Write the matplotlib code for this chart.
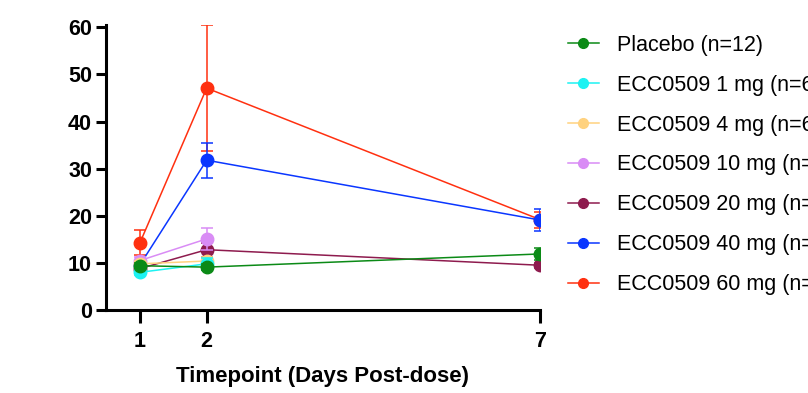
import matplotlib
matplotlib.use("Agg")
import matplotlib.pyplot as plt
from matplotlib.lines import Line2D

plt.rcParams['font.family'] = ['Liberation Sans', 'DejaVu Sans']

days_full = [1, 2, 7]
days_short = [1, 2]

labels = ["Placebo (n=12)", "ECC0509 1 mg (n=6)", "ECC0509 4 mg (n=6)",
          "ECC0509 10 mg (n=6)", "ECC0509 20 mg (n=6)", "ECC0509 40 mg (n=6)",
          "ECC0509 60 mg (n=6)"]
colors = ["#0B8A16", "#1DF2F2", "#FFD27F", "#D98CF5", "#8E1B4E", "#0A36FF", "#FF3010"]

placebo_mean = [9.4, 9.1, 11.9]
placebo_err = [0.5, 0.7, 1.2]
mg1_mean = [8.0, 9.8]
mg1_err = [0.5, 1.3]
mg4_mean = [9.8, 10.4]
mg4_err = [0.6, 0.8]
mg10_mean = [10.5, 15.1]
mg10_err = [0.8, 2.4]
mg20_mean = [8.8, 12.8, 9.5]
mg20_err = [0.5, 1.5, 0.5]
mg40_mean = [9.6, 31.8, 19.1]
mg40_err = [0.7, 3.7, 2.3]
mg60_mean = [14.3, 47.1, 19.2]
mg60_err = [2.7, 13.4, 1.7]

series = [
    (days_full, placebo_mean, placebo_err),
    (days_short, mg1_mean, mg1_err),
    (days_short, mg4_mean, mg4_err),
    (days_short, mg10_mean, mg10_err),
    (days_full, mg20_mean, mg20_err),
    (days_full, mg40_mean, mg40_err),
    (days_full, mg60_mean, mg60_err),
]

fig = plt.figure(figsize=(8.08, 3.93), dpi=100)
ax = fig.add_axes([106/808, 1-310/393, (540-106)/808, (310-25)/393])

n = len(series)
for i, ((x, y, e), lab, c) in enumerate(zip(series, labels, colors)):
    ax.errorbar(x, y, yerr=e, color=c, marker='o', markersize=9,
                linewidth=1.1, elinewidth=1.1, capsize=4.5, capthick=1.1,
                label=lab, zorder=10 + (n - i))

ax.set_xlim(0.49, 7.0)
ax.set_ylim(0, 60.5)
ax.set_xticks(days_full)
ax.set_yticks([0, 10, 20, 30, 40, 50, 60])
for s in ['top', 'right']:
    ax.spines[s].set_visible(False)
for s in ['left', 'bottom']:
    ax.spines[s].set_linewidth(2.2)
ax.tick_params(axis='y', width=2.2, length=7, labelsize=15.5, pad=3)
ax.tick_params(axis='x', width=2.2, length=9, labelsize=15.5, pad=6)
for lbl in ax.get_xticklabels() + ax.get_yticklabels():
    lbl.set_fontweight('bold')
ax.set_xlabel("Timepoint (Days Post-dose)", fontsize=16, fontweight='bold', labelpad=10)

leg_handles = [Line2D([0], [0], color=c, marker='o', markersize=7, linewidth=1.1) for c in colors]
fig.legend(leg_handles, labels, loc='upper left', bbox_to_anchor=(559/808, 1-26/393),
           frameon=False, fontsize=15.5, handlelength=1.45, handletextpad=0.85,
           labelspacing=0.88, borderaxespad=0)

fig.savefig("out.png", dpi=100)
